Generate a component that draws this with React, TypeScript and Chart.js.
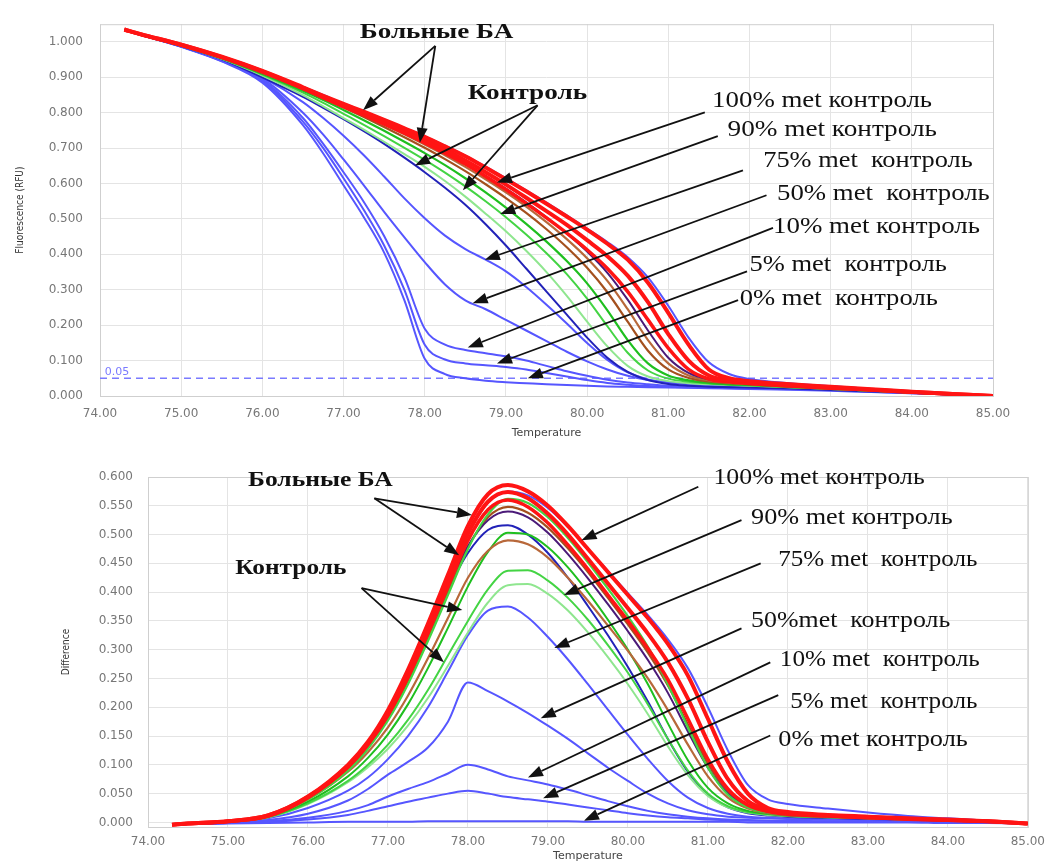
import React, { useEffect, useRef } from 'react';
import { Chart, registerables } from 'chart.js';

Chart.register(...registerables);

// ---------- shared temperature grid ----------
const TEMPS = [74.3, 74.5, 75, 75.5, 76, 76.5, 76.75, 77, 77.25, 77.5, 77.75, 78, 78.25, 78.5, 78.75, 79, 79.25, 79.5, 79.75, 80, 80.25, 80.5, 80.75, 81, 81.25, 81.5, 81.75, 82, 82.5, 83, 83.5, 84, 84.5, 85];

const X_TICKS = [74, 75, 76, 77, 78, 79, 80, 81, 82, 83, 84, 85];
const TOP_Y_TICKS = [0, 0.1, 0.2, 0.3, 0.4, 0.5, 0.6, 0.7, 0.8, 0.9, 1.0];
const BOTTOM_Y_TICKS = [0, 0.05, 0.1, 0.15, 0.2, 0.25, 0.3, 0.35, 0.4, 0.45, 0.5, 0.55, 0.6];
const THRESHOLD = 0.05;

// ---------- melt curves (Fluorescence, RFU) ----------
const MELT_R1 = [1.035, 1.022, 0.992, 0.958, 0.918, 0.872, 0.848, 0.825, 0.803, 0.780, 0.756, 0.732, 0.705, 0.677, 0.645, 0.612, 0.578, 0.543, 0.507, 0.470, 0.430, 0.385, 0.320, 0.235, 0.145, 0.075, 0.050, 0.042, 0.033, 0.026, 0.019, 0.012, 0.006, 0.000];
const MELT_R2 = [1.035, 1.022, 0.992, 0.957, 0.917, 0.870, 0.845, 0.821, 0.798, 0.774, 0.749, 0.723, 0.695, 0.665, 0.632, 0.597, 0.560, 0.522, 0.483, 0.440, 0.395, 0.340, 0.265, 0.175, 0.100, 0.058, 0.044, 0.038, 0.030, 0.024, 0.018, 0.011, 0.006, 0.000];
const MELT_R3 = [1.034, 1.021, 0.991, 0.957, 0.916, 0.868, 0.842, 0.817, 0.793, 0.768, 0.742, 0.715, 0.686, 0.655, 0.620, 0.583, 0.544, 0.503, 0.460, 0.413, 0.360, 0.295, 0.215, 0.135, 0.075, 0.048, 0.040, 0.035, 0.028, 0.022, 0.017, 0.011, 0.005, 0.000];
const MELT_P1 = [1.034, 1.021, 0.991, 0.956, 0.915, 0.869, 0.846, 0.822, 0.797, 0.771, 0.745, 0.717, 0.688, 0.656, 0.622, 0.586, 0.547, 0.505, 0.459, 0.408, 0.348, 0.272, 0.185, 0.108, 0.065, 0.047, 0.040, 0.036, 0.029, 0.023, 0.017, 0.011, 0.005, 0.000];
const MELT_B2 = [1.034, 1.021, 0.991, 0.956, 0.914, 0.868, 0.844, 0.819, 0.794, 0.767, 0.739, 0.710, 0.680, 0.647, 0.612, 0.575, 0.535, 0.491, 0.443, 0.389, 0.325, 0.245, 0.158, 0.092, 0.058, 0.044, 0.038, 0.034, 0.028, 0.022, 0.016, 0.010, 0.005, 0.000];
const MELT_B1 = [1.034, 1.021, 0.990, 0.955, 0.912, 0.866, 0.841, 0.815, 0.788, 0.760, 0.731, 0.701, 0.669, 0.635, 0.598, 0.559, 0.517, 0.471, 0.420, 0.362, 0.293, 0.210, 0.128, 0.075, 0.051, 0.041, 0.036, 0.033, 0.027, 0.021, 0.016, 0.010, 0.005, 0.000];
const MELT_G1 = [1.034, 1.021, 0.990, 0.954, 0.910, 0.862, 0.836, 0.808, 0.779, 0.749, 0.718, 0.686, 0.652, 0.615, 0.575, 0.532, 0.486, 0.436, 0.381, 0.318, 0.242, 0.158, 0.092, 0.058, 0.044, 0.037, 0.033, 0.031, 0.026, 0.021, 0.015, 0.010, 0.005, 0.000];
const MELT_G2 = [1.034, 1.020, 0.989, 0.953, 0.908, 0.857, 0.828, 0.797, 0.766, 0.734, 0.701, 0.667, 0.631, 0.592, 0.550, 0.505, 0.456, 0.403, 0.344, 0.275, 0.197, 0.122, 0.072, 0.049, 0.040, 0.035, 0.032, 0.030, 0.025, 0.020, 0.015, 0.010, 0.005, 0.000];
const MELT_G3 = [1.034, 1.020, 0.989, 0.952, 0.905, 0.850, 0.818, 0.785, 0.752, 0.718, 0.683, 0.647, 0.607, 0.563, 0.515, 0.465, 0.410, 0.350, 0.283, 0.210, 0.140, 0.085, 0.055, 0.042, 0.036, 0.033, 0.031, 0.029, 0.025, 0.020, 0.015, 0.010, 0.005, 0.000];
const MELT_100 = [1.035, 1.022, 0.992, 0.958, 0.918, 0.873, 0.850, 0.826, 0.804, 0.781, 0.757, 0.733, 0.707, 0.679, 0.648, 0.615, 0.581, 0.546, 0.510, 0.473, 0.435, 0.392, 0.335, 0.255, 0.165, 0.095, 0.062, 0.048, 0.036, 0.028, 0.020, 0.013, 0.006, 0.000];
const MELT_90 = [1.034, 1.020, 0.988, 0.951, 0.900, 0.845, 0.814, 0.782, 0.748, 0.712, 0.673, 0.632, 0.588, 0.540, 0.485, 0.425, 0.360, 0.295, 0.230, 0.165, 0.108, 0.068, 0.045, 0.034, 0.029, 0.026, 0.025, 0.024, 0.021, 0.017, 0.013, 0.009, 0.004, 0.000];
const MELT_75 = [1.034, 1.020, 0.988, 0.950, 0.900, 0.830, 0.785, 0.735, 0.680, 0.620, 0.558, 0.502, 0.453, 0.415, 0.385, 0.352, 0.308, 0.258, 0.205, 0.150, 0.102, 0.067, 0.047, 0.038, 0.033, 0.030, 0.028, 0.026, 0.022, 0.018, 0.014, 0.009, 0.004, 0.000];
const MELT_50 = [1.034, 1.020, 0.987, 0.948, 0.897, 0.800, 0.738, 0.668, 0.595, 0.520, 0.448, 0.378, 0.315, 0.270, 0.245, 0.215, 0.185, 0.155, 0.125, 0.098, 0.075, 0.057, 0.045, 0.038, 0.034, 0.031, 0.029, 0.027, 0.023, 0.019, 0.014, 0.009, 0.004, 0.000];
const MELT_10 = [1.034, 1.020, 0.987, 0.947, 0.893, 0.785, 0.712, 0.632, 0.548, 0.452, 0.335, 0.190, 0.145, 0.130, 0.121, 0.112, 0.100, 0.085, 0.070, 0.057, 0.046, 0.038, 0.033, 0.029, 0.027, 0.025, 0.024, 0.023, 0.020, 0.017, 0.013, 0.009, 0.004, 0.000];
const MELT_5 = [1.034, 1.020, 0.987, 0.946, 0.890, 0.775, 0.700, 0.615, 0.525, 0.425, 0.300, 0.145, 0.103, 0.092, 0.087, 0.082, 0.075, 0.065, 0.055, 0.045, 0.037, 0.032, 0.028, 0.026, 0.024, 0.023, 0.022, 0.021, 0.019, 0.016, 0.012, 0.008, 0.004, 0.000];
const MELT_0 = [1.034, 1.020, 0.986, 0.945, 0.885, 0.765, 0.685, 0.595, 0.505, 0.405, 0.270, 0.105, 0.062, 0.050, 0.043, 0.039, 0.036, 0.033, 0.031, 0.029, 0.027, 0.026, 0.025, 0.024, 0.023, 0.022, 0.021, 0.020, 0.018, 0.015, 0.011, 0.008, 0.004, 0.000];

// ---------- difference curves ----------
const DIFF_R1 = [-0.004, -0.002, 0.002, 0.012, 0.045, 0.100, 0.140, 0.195, 0.265, 0.345, 0.430, 0.515, 0.570, 0.586, 0.575, 0.550, 0.515, 0.475, 0.435, 0.395, 0.355, 0.310, 0.255, 0.180, 0.105, 0.050, 0.025, 0.018, 0.013, 0.010, 0.007, 0.005, 0.002, -0.002];
const DIFF_R2 = [-0.004, -0.002, 0.002, 0.012, 0.044, 0.098, 0.138, 0.190, 0.258, 0.337, 0.420, 0.502, 0.557, 0.574, 0.563, 0.536, 0.500, 0.458, 0.415, 0.372, 0.328, 0.278, 0.215, 0.140, 0.075, 0.037, 0.022, 0.016, 0.012, 0.009, 0.006, 0.004, 0.002, -0.002];
const DIFF_R3 = [-0.004, -0.002, 0.002, 0.011, 0.043, 0.096, 0.135, 0.186, 0.252, 0.329, 0.410, 0.490, 0.543, 0.560, 0.548, 0.520, 0.482, 0.440, 0.395, 0.350, 0.302, 0.248, 0.180, 0.110, 0.058, 0.030, 0.019, 0.014, 0.011, 0.008, 0.006, 0.004, 0.002, -0.002];
const DIFF_P1 = [-0.004, -0.002, 0.002, 0.012, 0.045, 0.100, 0.140, 0.192, 0.258, 0.335, 0.412, 0.480, 0.525, 0.540, 0.530, 0.503, 0.466, 0.424, 0.379, 0.332, 0.282, 0.225, 0.158, 0.095, 0.050, 0.027, 0.017, 0.013, 0.010, 0.008, 0.006, 0.004, 0.002, -0.002];
const DIFF_B1 = [-0.004, -0.002, 0.002, 0.011, 0.042, 0.094, 0.132, 0.182, 0.246, 0.320, 0.400, 0.478, 0.530, 0.548, 0.538, 0.512, 0.476, 0.435, 0.390, 0.344, 0.295, 0.238, 0.170, 0.102, 0.054, 0.028, 0.018, 0.014, 0.011, 0.008, 0.006, 0.004, 0.002, -0.002];
const DIFF_B2 = [-0.004, -0.002, 0.002, 0.010, 0.040, 0.088, 0.122, 0.165, 0.220, 0.285, 0.355, 0.425, 0.472, 0.490, 0.483, 0.460, 0.425, 0.385, 0.342, 0.298, 0.250, 0.195, 0.135, 0.080, 0.043, 0.024, 0.016, 0.012, 0.010, 0.008, 0.006, 0.004, 0.002, -0.002];
const DIFF_G1 = [-0.004, -0.002, 0.002, 0.011, 0.040, 0.090, 0.128, 0.177, 0.240, 0.315, 0.395, 0.475, 0.535, 0.562, 0.555, 0.530, 0.494, 0.452, 0.406, 0.358, 0.305, 0.240, 0.165, 0.095, 0.048, 0.026, 0.017, 0.013, 0.010, 0.008, 0.006, 0.004, 0.002, -0.002];
const DIFF_G2 = [-0.004, -0.002, 0.001, 0.010, 0.036, 0.080, 0.112, 0.153, 0.205, 0.268, 0.338, 0.410, 0.470, 0.503, 0.500, 0.478, 0.443, 0.400, 0.352, 0.300, 0.240, 0.172, 0.108, 0.060, 0.033, 0.020, 0.015, 0.012, 0.010, 0.008, 0.006, 0.004, 0.002, -0.002];
const DIFF_G3 = [-0.004, -0.002, 0.001, 0.009, 0.033, 0.072, 0.100, 0.135, 0.178, 0.230, 0.290, 0.350, 0.405, 0.437, 0.438, 0.420, 0.390, 0.352, 0.308, 0.260, 0.205, 0.145, 0.090, 0.050, 0.028, 0.018, 0.014, 0.011, 0.009, 0.007, 0.005, 0.004, 0.002, -0.002];
const DIFF_G4 = [-0.004, -0.002, 0.001, 0.009, 0.032, 0.070, 0.096, 0.128, 0.168, 0.216, 0.272, 0.330, 0.382, 0.412, 0.414, 0.397, 0.368, 0.330, 0.287, 0.240, 0.188, 0.132, 0.082, 0.046, 0.026, 0.017, 0.013, 0.011, 0.009, 0.007, 0.005, 0.004, 0.002, -0.002];
const DIFF_100 = [-0.004, -0.002, 0.002, 0.011, 0.042, 0.096, 0.135, 0.188, 0.256, 0.335, 0.418, 0.500, 0.555, 0.575, 0.568, 0.546, 0.513, 0.475, 0.437, 0.398, 0.360, 0.318, 0.268, 0.200, 0.125, 0.065, 0.040, 0.032, 0.024, 0.017, 0.011, 0.007, 0.003, -0.002];
const DIFF_90 = [-0.004, -0.002, 0.002, 0.012, 0.045, 0.100, 0.140, 0.192, 0.258, 0.332, 0.405, 0.468, 0.508, 0.516, 0.500, 0.468, 0.425, 0.376, 0.325, 0.270, 0.210, 0.145, 0.088, 0.048, 0.026, 0.016, 0.012, 0.010, 0.008, 0.006, 0.005, 0.003, 0.001, -0.002];
const DIFF_75 = [-0.004, -0.003, 0.000, 0.007, 0.025, 0.055, 0.078, 0.110, 0.150, 0.200, 0.262, 0.325, 0.368, 0.375, 0.356, 0.322, 0.283, 0.240, 0.196, 0.152, 0.110, 0.072, 0.043, 0.025, 0.015, 0.010, 0.008, 0.007, 0.006, 0.005, 0.004, 0.003, 0.001, -0.002];
const DIFF_50 = [-0.004, -0.003, -0.001, 0.004, 0.015, 0.038, 0.058, 0.083, 0.105, 0.130, 0.175, 0.243, 0.228, 0.210, 0.190, 0.168, 0.145, 0.120, 0.095, 0.072, 0.050, 0.033, 0.021, 0.014, 0.010, 0.008, 0.007, 0.006, 0.005, 0.004, 0.003, 0.002, 0.001, -0.002];
const DIFF_10 = [-0.004, -0.003, -0.001, 0.002, 0.008, 0.020, 0.030, 0.045, 0.058, 0.070, 0.085, 0.100, 0.092, 0.080, 0.073, 0.066, 0.057, 0.047, 0.037, 0.028, 0.020, 0.014, 0.010, 0.007, 0.005, 0.004, 0.003, 0.003, 0.002, 0.002, 0.001, 0.001, 0.000, -0.002];
const DIFF_5 = [-0.004, -0.003, -0.001, 0.001, 0.005, 0.013, 0.020, 0.028, 0.036, 0.043, 0.050, 0.055, 0.050, 0.044, 0.040, 0.036, 0.031, 0.026, 0.021, 0.016, 0.012, 0.009, 0.007, 0.005, 0.004, 0.003, 0.003, 0.002, 0.002, 0.001, 0.001, 0.001, 0.000, -0.002];
const DIFF_0 = [-0.004, -0.003, -0.002, -0.001, 0.000, 0.001, 0.001, 0.001, 0.001, 0.002, 0.002, 0.002, 0.002, 0.002, 0.002, 0.002, 0.002, 0.001, 0.001, 0.001, 0.001, 0.001, 0.001, 0.001, 0.001, 0.000, 0.000, 0.000, 0.000, 0.000, 0.000, -0.001, -0.001, -0.002];

// ---------- styles ----------
const RED = '#ff1414';
const GREEN = '#1fbf1f';
const GREEN2 = '#44d444';
const LIGHT_GREEN = '#8fe68f';
const BROWN = '#a4501e';
const BROWN2 = '#b8683a';
const PURPLE = '#4b1a78';
const BLUE = '#5656ff';
const DARK_BLUE = '#2222b8';

type Series = { label: string; data: number[]; color: string; width: number };

// first entries are drawn on top
const TOP_SERIES: Series[] = [
  { label: 'БА 1', data: MELT_R1, color: RED, width: 4 },
  { label: 'БА 2', data: MELT_R2, color: RED, width: 4 },
  { label: 'БА 3', data: MELT_R3, color: RED, width: 3.5 },
  { label: 'Контроль P', data: MELT_P1, color: PURPLE, width: 2 },
  { label: 'Контроль B2', data: MELT_B2, color: BROWN2, width: 2.2 },
  { label: 'Контроль B1', data: MELT_B1, color: BROWN, width: 2.2 },
  { label: 'Контроль G1', data: MELT_G1, color: GREEN, width: 2.2 },
  { label: 'Контроль G2', data: MELT_G2, color: GREEN2, width: 2 },
  { label: 'Контроль G3', data: MELT_G3, color: LIGHT_GREEN, width: 2 },
  { label: '100% met', data: MELT_100, color: BLUE, width: 2 },
  { label: '90% met', data: MELT_90, color: DARK_BLUE, width: 2 },
  { label: '75% met', data: MELT_75, color: BLUE, width: 2 },
  { label: '50% met', data: MELT_50, color: BLUE, width: 2 },
  { label: '10% met', data: MELT_10, color: BLUE, width: 2 },
  { label: '5% met', data: MELT_5, color: BLUE, width: 2 },
  { label: '0% met', data: MELT_0, color: BLUE, width: 2 },
];

const BOTTOM_SERIES: Series[] = [
  { label: 'БА 1', data: DIFF_R1, color: RED, width: 4 },
  { label: 'БА 2', data: DIFF_R2, color: RED, width: 4 },
  { label: 'БА 3', data: DIFF_R3, color: RED, width: 3.5 },
  { label: 'Контроль G1', data: DIFF_G1, color: GREEN2, width: 2.2 },
  { label: 'Контроль P', data: DIFF_P1, color: PURPLE, width: 2 },
  { label: 'Контроль B1', data: DIFF_B1, color: BROWN, width: 2.2 },
  { label: 'Контроль B2', data: DIFF_B2, color: BROWN2, width: 2.2 },
  { label: 'Контроль G2', data: DIFF_G2, color: GREEN, width: 2 },
  { label: 'Контроль G3', data: DIFF_G3, color: GREEN2, width: 2 },
  { label: 'Контроль G4', data: DIFF_G4, color: LIGHT_GREEN, width: 2 },
  { label: '100% met', data: DIFF_100, color: BLUE, width: 2 },
  { label: '90% met', data: DIFF_90, color: DARK_BLUE, width: 2 },
  { label: '75% met', data: DIFF_75, color: BLUE, width: 2 },
  { label: '50% met', data: DIFF_50, color: BLUE, width: 2 },
  { label: '10% met', data: DIFF_10, color: BLUE, width: 2 },
  { label: '5% met', data: DIFF_5, color: BLUE, width: 2 },
  { label: '0% met', data: DIFF_0, color: BLUE, width: 2 },
];

// ---------- annotations (data coordinates: temperature, value) ----------
type Label = { text: string; x0: number; x1: number; y: number; bold: boolean; size: number };
type Arrow = { from: [number, number]; to: [number, number] };

const TOP_LABELS: Label[] = [
  { text: 'Больные БА', x0: 77.2, x1: 79.09, y: 1.028, bold: true, size: 22 },
  { text: 'Контроль', x0: 78.53, x1: 80.0, y: 0.855, bold: true, size: 22 },
  { text: '100% met контроль', x0: 81.54, x1: 84.25, y: 0.835, bold: false, size: 24 },
  { text: '90% met контроль', x0: 81.73, x1: 84.31, y: 0.751, bold: false, size: 24 },
  { text: '75% met  контроль', x0: 82.17, x1: 84.75, y: 0.665, bold: false, size: 24 },
  { text: '50% met  контроль', x0: 82.34, x1: 84.96, y: 0.57, bold: false, size: 24 },
  { text: '10% met контроль', x0: 82.29, x1: 84.84, y: 0.478, bold: false, size: 24 },
  { text: '5% met  контроль', x0: 82.0, x1: 84.43, y: 0.371, bold: false, size: 24 },
  { text: '0% met  контроль', x0: 81.88, x1: 84.32, y: 0.274, bold: false, size: 24 },
];

const TOP_ARROWS: Arrow[] = [
  { from: [78.13, 0.989], to: [77.24, 0.807] },
  { from: [78.13, 0.989], to: [77.94, 0.715] },
  { from: [79.39, 0.821], to: [77.88, 0.651] },
  { from: [79.39, 0.821], to: [78.47, 0.581] },
  { from: [81.45, 0.801], to: [78.89, 0.603] },
  { from: [81.61, 0.734], to: [78.93, 0.514] },
  { from: [81.92, 0.637], to: [78.74, 0.385] },
  { from: [82.21, 0.567], to: [78.59, 0.262] },
  { from: [82.29, 0.475], to: [78.53, 0.137] },
  { from: [81.97, 0.352], to: [78.89, 0.092] },
  { from: [81.86, 0.271], to: [79.27, 0.05] },
];

const BOTTOM_LABELS: Label[] = [
  { text: 'Больные БА', x0: 75.25, x1: 77.06, y: 0.595, bold: true, size: 22 },
  { text: 'Контроль', x0: 75.09, x1: 76.48, y: 0.442, bold: true, size: 22 },
  { text: '100% met контроль', x0: 81.07, x1: 83.71, y: 0.598, bold: false, size: 24 },
  { text: '90% met контроль', x0: 81.54, x1: 84.06, y: 0.53, bold: false, size: 24 },
  { text: '75% met  контроль', x0: 81.88, x1: 84.37, y: 0.457, bold: false, size: 24 },
  { text: '50%met  контроль', x0: 81.54, x1: 84.03, y: 0.351, bold: false, size: 24 },
  { text: '10% met  контроль', x0: 81.9, x1: 84.4, y: 0.282, bold: false, size: 24 },
  { text: '5% met  контроль', x0: 82.03, x1: 84.37, y: 0.209, bold: false, size: 24 },
  { text: '0% met контроль', x0: 81.88, x1: 84.25, y: 0.143, bold: false, size: 24 },
];

const BOTTOM_ARROWS: Arrow[] = [
  { from: [76.83, 0.563], to: [78.05, 0.534] },
  { from: [76.83, 0.563], to: [77.89, 0.464] },
  { from: [76.67, 0.407], to: [77.93, 0.369] },
  { from: [76.67, 0.407], to: [77.70, 0.278] },
  { from: [80.88, 0.583], to: [79.42, 0.49] },
  { from: [81.42, 0.525], to: [79.2, 0.395] },
  { from: [81.66, 0.45], to: [79.08, 0.303] },
  { from: [81.42, 0.337], to: [78.91, 0.181] },
  { from: [81.78, 0.278], to: [78.75, 0.078] },
  { from: [81.88, 0.221], to: [78.94, 0.042] },
  { from: [81.78, 0.151], to: [79.45, 0.003] },
];

const TICK_FONT = { family: '"DejaVu Sans", Verdana, sans-serif', size: 12 };
const TICK_COLOR = '#777';
const GRID_COLOR = '#e4e4e4';

function drawArrow(ctx: CanvasRenderingContext2D, x1: number, y1: number, x2: number, y2: number) {
  const ang = Math.atan2(y2 - y1, x2 - x1);
  const headLen = 15;
  const headHalf = 5.5;
  const bx = x2 - headLen * Math.cos(ang);
  const by = y2 - headLen * Math.sin(ang);
  ctx.strokeStyle = '#111';
  ctx.fillStyle = '#111';
  ctx.lineWidth = 1.8;
  ctx.beginPath();
  ctx.moveTo(x1, y1);
  ctx.lineTo(bx, by);
  ctx.stroke();
  ctx.beginPath();
  ctx.moveTo(x2, y2);
  ctx.lineTo(bx + headHalf * Math.sin(ang), by - headHalf * Math.cos(ang));
  ctx.lineTo(bx - headHalf * Math.sin(ang), by + headHalf * Math.cos(ang));
  ctx.closePath();
  ctx.fill();
}

function makeAnnotationPlugin(labels: Label[], arrows: Arrow[], showThreshold: boolean) {
  return {
    id: 'annotations',
    beforeDatasetsDraw(chart: any) {
      const { ctx, chartArea } = chart;
      ctx.save();
      ctx.strokeStyle = '#cfcfcf';
      ctx.lineWidth = 1;
      ctx.strokeRect(chartArea.left + 0.5, chartArea.top + 0.5, chartArea.right - chartArea.left, chartArea.bottom - chartArea.top);
      ctx.restore();
    },
    afterDatasetsDraw(chart: any) {
      const { ctx } = chart;
      const xs = chart.scales.x;
      const ys = chart.scales.y;
      ctx.save();
      if (showThreshold) {
        ctx.font = '11px "DejaVu Sans", sans-serif';
        ctx.fillStyle = '#7a7aff';
        ctx.textAlign = 'left';
        ctx.textBaseline = 'bottom';
        ctx.fillText(THRESHOLD.toFixed(2), xs.getPixelForValue(74.06), ys.getPixelForValue(THRESHOLD) - 1);
      }
      arrows.forEach((a) => {
        drawArrow(
          ctx,
          xs.getPixelForValue(a.from[0]),
          ys.getPixelForValue(a.from[1]),
          xs.getPixelForValue(a.to[0]),
          ys.getPixelForValue(a.to[1])
        );
      });
      labels.forEach((l) => {
        const left = xs.getPixelForValue(l.x0);
        const right = xs.getPixelForValue(l.x1);
        const cy = ys.getPixelForValue(l.y);
        ctx.font = `${l.bold ? 'bold ' : ''}${l.size}px "Liberation Serif", "Times New Roman", serif`;
        const w = ctx.measureText(l.text).width;
        const sx = (right - left) / w;
        ctx.save();
        ctx.translate(left, cy);
        ctx.scale(sx, 1);
        ctx.fillStyle = '#111';
        ctx.textAlign = 'left';
        ctx.textBaseline = 'middle';
        ctx.fillText(l.text, 0, 0);
        ctx.restore();
      });
      ctx.restore();
    },
  };
}

function buildDatasets(series: Series[]) {
  return series.map((s) => ({
    label: s.label,
    data: TEMPS.map((t, i) => ({ x: t, y: s.data[i] })),
    borderColor: s.color,
    backgroundColor: s.color,
    borderWidth: s.width,
    pointRadius: 0,
    fill: false,
    cubicInterpolationMode: 'monotone' as const,
  }));
}

function MeltChart() {
  const ref = useRef<HTMLCanvasElement | null>(null);
  useEffect(() => {
    if (!ref.current) return;
    const datasets: any[] = buildDatasets(TOP_SERIES);
    datasets.push({
      label: 'threshold',
      data: [{ x: 74, y: THRESHOLD }, { x: 85, y: THRESHOLD }],
      borderColor: '#7a7aff',
      borderWidth: 1.5,
      borderDash: [7, 5],
      pointRadius: 0,
      fill: false,
    });
    const chart = new Chart(ref.current, {
      type: 'line',
      data: { datasets },
      options: {
        responsive: false,
        animation: false,
        layout: { padding: { left: 0, right: 60, top: 20, bottom: 0 } },
        plugins: { legend: { display: false }, tooltip: { enabled: false } },
        scales: {
          x: {
            type: 'linear',
            min: 74,
            max: 85,
            afterFit: (s: any) => { s.height = 49; },
            afterBuildTicks: (s: any) => { s.ticks = X_TICKS.map((v) => ({ value: v })); },
            ticks: { callback: (v: any) => Number(v).toFixed(2), font: TICK_FONT, color: TICK_COLOR, padding: 11, maxRotation: 0, autoSkip: false },
            grid: { color: GRID_COLOR, drawTicks: false },
            border: { display: false },
            title: { display: true, text: 'Temperature', font: { family: '"DejaVu Sans", sans-serif', size: 11 }, color: '#444', padding: { top: 0, bottom: 5 } },
          },
          y: {
            type: 'linear',
            min: 0,
            max: 1.05,
            afterFit: (s: any) => { s.width = 100; },
            afterBuildTicks: (s: any) => { s.ticks = TOP_Y_TICKS.map((v) => ({ value: v })); },
            ticks: { callback: (v: any) => Number(v).toFixed(3), font: TICK_FONT, color: TICK_COLOR, padding: 17 },
            grid: { color: GRID_COLOR, drawTicks: false },
            border: { display: false },
            title: { display: true, text: 'Fluorescence (RFU)', font: { family: '"DejaVu Sans Condensed", "Liberation Sans Narrow", sans-serif', size: 10 }, color: '#333', padding: { top: 14, bottom: 0 } },
          },
        },
      },
      plugins: [makeAnnotationPlugin(TOP_LABELS, TOP_ARROWS, true)],
    });
    return () => chart.destroy();
  }, []);
  return <canvas ref={ref} width={1053} height={445} style={{ position: 'absolute', left: 0, top: 0, display: 'block' }} />;
}

function DiffChart() {
  const ref = useRef<HTMLCanvasElement | null>(null);
  useEffect(() => {
    if (!ref.current) return;
    const chart = new Chart(ref.current, {
      type: 'line',
      data: { datasets: buildDatasets(BOTTOM_SERIES) as any },
      options: {
        responsive: false,
        animation: false,
        layout: { padding: { left: 0, right: 23, top: 32, bottom: 0 } },
        plugins: { legend: { display: false }, tooltip: { enabled: false } },
        scales: {
          x: {
            type: 'linear',
            min: 74,
            max: 85,
            afterFit: (s: any) => { s.height = 36; },
            afterBuildTicks: (s: any) => { s.ticks = X_TICKS.map((v) => ({ value: v })); },
            ticks: { callback: (v: any) => Number(v).toFixed(2), font: TICK_FONT, color: TICK_COLOR, padding: 8, maxRotation: 0, autoSkip: false },
            grid: { color: GRID_COLOR, drawTicks: false },
            border: { display: false },
            title: { display: true, text: 'Temperature', font: { family: '"DejaVu Sans", sans-serif', size: 11 }, color: '#444', padding: { top: 0, bottom: 0 } },
          },
          y: {
            type: 'linear',
            min: -0.008,
            max: 0.6,
            afterFit: (s: any) => { s.width = 148; },
            afterBuildTicks: (s: any) => { s.ticks = BOTTOM_Y_TICKS.map((v) => ({ value: v })); },
            ticks: { callback: (v: any) => Number(v).toFixed(3), font: TICK_FONT, color: TICK_COLOR, padding: 15 },
            grid: { color: GRID_COLOR, drawTicks: false },
            border: { display: false },
            title: { display: true, text: 'Difference', font: { family: '"DejaVu Sans Condensed", "Liberation Sans Narrow", sans-serif', size: 10 }, color: '#333', padding: { top: 60, bottom: 0 } },
          },
        },
      },
      plugins: [makeAnnotationPlugin(BOTTOM_LABELS, BOTTOM_ARROWS, false)],
    });
    return () => chart.destroy();
  }, []);
  return <canvas ref={ref} width={1053} height={418} style={{ position: 'absolute', left: 0, top: 445, display: 'block' }} />;
}

export default function App() {
  return (
    <div style={{ position: 'absolute', left: 0, top: 0, width: 1053, height: 863, background: '#fff', overflow: 'hidden' }}>
      <MeltChart />
      <DiffChart />
    </div>
  );
}
